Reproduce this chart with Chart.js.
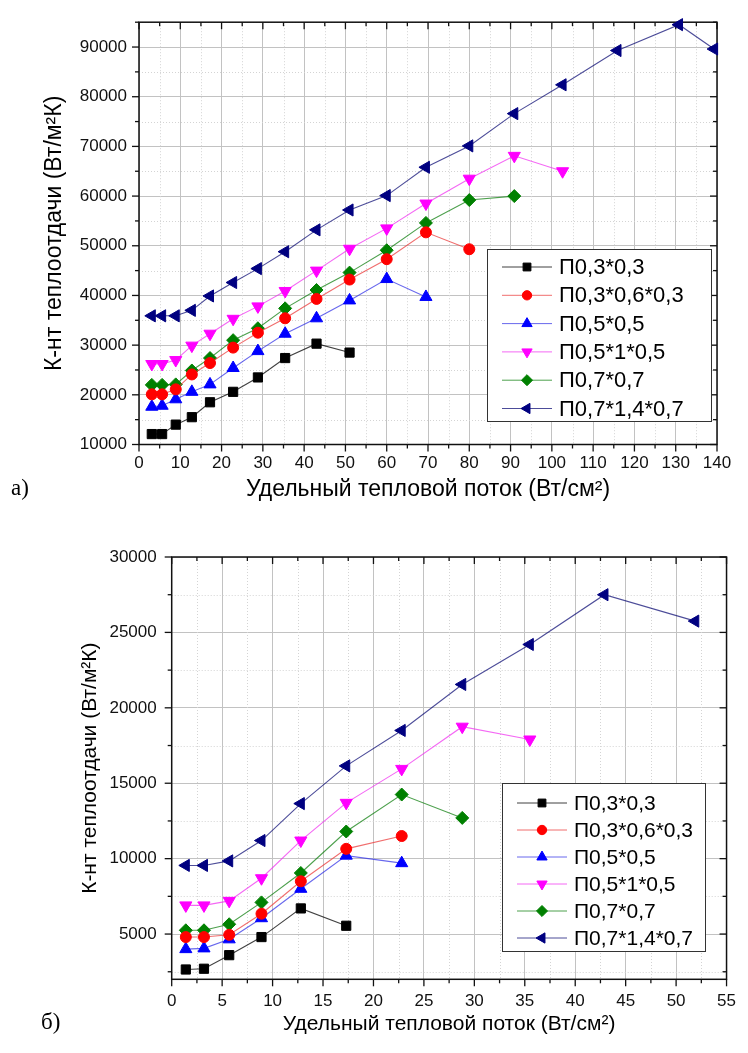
<!DOCTYPE html>
<html>
<head>
<meta charset="utf-8">
<script src="https://cdn.jsdelivr.net/npm/chart.js@4/dist/chart.umd.min.js"></script>
<style>
  body { margin: 0; background: #fff; }
  #page { position: relative; width: 748px; height: 1053px; overflow: hidden; background: #fff; }
  canvas { position: absolute; left: 0; }
  #top { top: 0; }
  #bottom { top: 520px; }
  .tag { position: absolute; font: 23px "Liberation Serif", "Times New Roman", serif; color: #000; line-height: 1; }
</style>
</head>
<body>
<div id="page">
  <canvas id="top" width="748" height="520"></canvas>
  <canvas id="bottom" width="748" height="533"></canvas>
  <div class="tag" style="left: 11px; top: 476px;">а)</div>
  <div class="tag" style="left: 41px; top: 1010px;">б)</div>
</div>
<script>
// series names (same for both panels)
const seriesNames = ['П0,3*0,3', 'П0,3*0,6*0,3', 'П0,5*0,5', 'П0,5*1*0,5', 'П0,7*0,7', 'П0,7*1,4*0,7']

// panel а) - heat flux, W/cm2
const xTop = [3.1, 5.6, 8.9, 12.8, 17.2, 22.8, 28.8, 35.4, 43.0, 51.0, 60.0, 69.5, 80.0, 90.9, 102.6, 115.9, 130.8, 139.3]
const topP03 = [12100, 12100, 14000, 15500, 18500, 20600, 23500, 27400, 30300, 28500]
const topP0306 = [20100, 20100, 21100, 24100, 26400, 29500, 32500, 35400, 39300, 43200, 47300, 52700, 49300]
const topP05 = [17600, 17800, 19100, 20600, 22100, 25400, 28800, 32300, 35400, 39000, 43300, 39700]
const topP0510 = [26200, 26200, 27000, 29900, 32300, 35300, 37800, 40900, 45000, 49400, 53500, 58500, 63500, 68100, 65000]
const topP07 = [22000, 22000, 22100, 24900, 27400, 31000, 33400, 37400, 41100, 44600, 49100, 54600, 59200, 60000]
const topP0714 = [35900, 35900, 35900, 37000, 39900, 42600, 45400, 48800, 53200, 57200, 60100, 65800, 70100, 76600, 82400, 89300, 94500, 89600]

// panel б)
const xBottom = [1.4, 3.2, 5.7, 8.9, 12.8, 17.3, 22.8, 28.8, 35.5, 42.9, 51.9]
const botP03 = [2650, 2700, 3600, 4800, 6700, 5550]
const botP0306 = [4800, 4800, 4950, 6350, 8500, 10650, 11500]
const botP05 = [4000, 4050, 4650, 6050, 8000, 10200, 9700]
const botP0510 = [6900, 6900, 7200, 8700, 11200, 13700, 15950, 18750, 17900]
const botP07 = [5250, 5250, 5650, 7100, 9050, 11800, 14250, 12700]
const botP0714 = [9550, 9550, 9850, 11200, 13650, 16150, 18500, 21550, 24200, 27500, 25750]

// axis ranges / tick steps
const topXRange = [0, 140], topXMajor = 10, topXMinor = 5
const topYRange = [10000, 95000], topYMajor = 10000, topYMinor = 5000
const botXRange = [0, 55], botXMajor = 5, botXMinor = 2.5
const botYRange = [2000, 30000], botYMajor = 5000, botYMinor = 2500

const xTitle = 'Удельный тепловой поток (Вт/см²)'
const yTitle = 'К-нт теплоотдачи (Вт/м²К)'

const FONT = '"Liberation Sans", Arial, sans-serif'
Chart.defaults.font.family = FONT
Chart.defaults.color = '#111'

const markers = [
  { color: '#000000', line: 'rgba(0,0,0,0.75)', style: 'rect', rot: 0, r: 6.5 },
  { color: '#ff0000', line: 'rgba(235,60,60,0.75)', style: 'circle', rot: 0, r: 5.5 },
  { color: '#0000ff', line: 'rgba(40,40,230,0.7)', style: 'triangle', rot: 0, r: 7 },
  { color: '#ff00ff', line: 'rgba(240,40,240,0.7)', style: 'triangle', rot: 180, r: 7 },
  { color: '#008000', line: 'rgba(0,120,0,0.7)', style: 'rectRot', rot: 0, r: 6.5 },
  { color: '#000080', line: 'rgba(0,0,110,0.7)', style: 'triangle', rot: 270, r: 7 }
]

const isMajor = (v, m) => Math.abs(v / m - Math.round(v / m)) < 1e-6
const steps = (min, max, step) => {
  const out = []
  for (let v = Math.ceil(min / step - 1e-9) * step; v <= max + 1e-9; v += step) out.push(Math.round(v * 1000) / 1000)
  return out
}

// dotted minor grid, frame, ticks on all four sides
const frameTicks = {
  id: 'frameTicks',
  beforeDatasetsDraw (chart, args, opts) {
    const { ctx, chartArea: a, scales: { x, y } } = chart
    const xs = steps(x.min, x.max, opts.xMinor)
    const ys = steps(y.min, y.max, opts.yMinor)
    const seg = (x1, y1, x2, y2) => { ctx.beginPath(); ctx.moveTo(x1, y1); ctx.lineTo(x2, y2); ctx.stroke() }
    ctx.save()
    ctx.lineWidth = 1
    ctx.strokeStyle = '#d4d4d4'
    ctx.setLineDash([1, 2])
    xs.filter(v => !isMajor(v, opts.xMajor)).forEach(v => {
      const px = Math.round(x.getPixelForValue(v)) + 0.5
      seg(px, a.top, px, a.bottom)
    })
    ys.filter(v => !isMajor(v, opts.yMajor)).forEach(v => {
      const py = Math.round(y.getPixelForValue(v)) + 0.5
      seg(a.left, py, a.right, py)
    })
    ctx.setLineDash([])
    ctx.strokeStyle = '#111'
    ctx.lineWidth = 1.5
    ctx.strokeRect(a.left, a.top, a.right - a.left, a.bottom - a.top)
    ctx.lineWidth = 1.3
    xs.forEach(v => {
      const px = x.getPixelForValue(v)
      const len = isMajor(v, opts.xMajor) ? 7 : 4
      seg(px, a.bottom, px, a.bottom + len)
      seg(px, a.top, px, a.top + len)
    })
    ys.forEach(v => {
      const py = y.getPixelForValue(v)
      const len = isMajor(v, opts.yMajor) ? 7 : 4
      seg(a.left - len, py, a.left, py)
      seg(a.right - len, py, a.right, py)
    })
    ctx.restore()
  }
}

// boxed legend placed inside the plot
const insideLegend = {
  id: 'insideLegend',
  afterDraw (chart, args, opts) {
    const { ctx } = chart
    ctx.save()
    ctx.fillStyle = '#fff'
    ctx.fillRect(opts.left, opts.top, opts.width, opts.height)
    ctx.strokeStyle = '#333'
    ctx.lineWidth = 1
    ctx.strokeRect(opts.left + 0.5, opts.top + 0.5, opts.width, opts.height)
    ctx.font = opts.fontSize + 'px ' + FONT
    ctx.textBaseline = 'middle'
    chart.data.datasets.forEach((ds, i) => {
      const yy = opts.firstRow + i * opts.rowGap
      ctx.strokeStyle = ds.borderColor
      ctx.lineWidth = 1
      ctx.beginPath()
      ctx.moveTo(opts.left + 15, yy)
      ctx.lineTo(opts.left + 65, yy)
      ctx.stroke()
      ctx.fillStyle = ds.pointBackgroundColor
      ctx.strokeStyle = ds.pointBorderColor
      Chart.helpers.drawPoint(ctx, { pointStyle: ds.pointStyle, rotation: ds.pointRotation, radius: ds.pointRadius * 0.85, borderWidth: 1 }, opts.left + 40, yy)
      ctx.fillStyle = '#000'
      ctx.fillText(ds.label, opts.left + 72, yy + 1)
    })
    ctx.restore()
  }
}

function makeDatasets (xs, series) {
  return series.map((vals, i) => ({
    label: seriesNames[i],
    data: vals.map((v, j) => ({ x: xs[j], y: v })),
    borderColor: markers[i].line,
    borderWidth: 1.1,
    pointStyle: markers[i].style,
    pointRotation: markers[i].rot,
    pointRadius: markers[i].r,
    pointBackgroundColor: markers[i].color,
    pointBorderColor: markers[i].color,
    pointBorderWidth: 1,
    clip: false
  }))
}

function buildChart (id, cfg) {
  return new Chart(document.getElementById(id), {
    type: 'line',
    data: { datasets: makeDatasets(cfg.xs, cfg.series) },
    options: {
      responsive: false,
      animation: false,
      devicePixelRatio: 1,
      layout: { padding: cfg.padding },
      plugins: {
        legend: { display: false },
        tooltip: { enabled: false },
        frameTicks: { xMajor: cfg.xMajor, xMinor: cfg.xMinor, yMajor: cfg.yMajor, yMinor: cfg.yMinor },
        insideLegend: cfg.legend
      },
      scales: {
        x: {
          type: 'linear',
          min: cfg.xRange[0],
          max: cfg.xRange[1],
          border: { display: false },
          grid: { color: '#c2c2c2', lineWidth: 1, drawTicks: false },
          afterBuildTicks: s => { s.ticks = steps(cfg.xRange[0], cfg.xRange[1], cfg.xMajor).map(v => ({ value: v })) },
          ticks: {
            autoSkip: false,
            maxRotation: 0,
            padding: cfg.xTickPad,
            font: { size: 17 },
            callback: v => String(v)
          },
          title: { display: true, text: xTitle, font: { size: cfg.titleSize }, color: '#000', padding: { top: 0, bottom: cfg.xTitlePad } },
          afterFit: s => { s.height = cfg.xAxisH }
        },
        y: {
          type: 'linear',
          min: cfg.yRange[0],
          max: cfg.yRange[1],
          border: { display: false },
          grid: { color: '#c2c2c2', lineWidth: 1, drawTicks: false },
          afterBuildTicks: s => { s.ticks = steps(cfg.yRange[0], cfg.yRange[1], cfg.yMajor).map(v => ({ value: v })) },
          ticks: {
            autoSkip: false,
            padding: cfg.yTickPad,
            font: { size: 17 },
            callback: v => String(v)
          },
          title: { display: true, text: yTitle, font: { size: cfg.titleSize }, color: '#000', padding: { top: cfg.yTitlePad, bottom: 0 } },
          afterFit: s => { s.width = cfg.yAxisW }
        }
      }
    },
    plugins: [frameTicks, insideLegend]
  })
}

buildChart('top', {
  xs: xTop,
  series: [topP03, topP0306, topP05, topP0510, topP07, topP0714],
  xRange: topXRange, xMajor: topXMajor, xMinor: topXMinor,
  yRange: topYRange, yMajor: topYMajor, yMinor: topYMinor,
  padding: { top: 15, right: 31, left: 0, bottom: 0 },
  yAxisW: 139, xAxisH: 75.5,
  xTickPad: 9, yTickPad: 12,
  titleSize: 23, xTitlePad: 17, yTitlePad: 41,
  legend: { left: 487, top: 249, width: 224, height: 172, firstRow: 267, rowGap: 28.3, fontSize: 22 }
})

buildChart('bottom', {
  xs: xBottom,
  series: [botP03, botP0306, botP05, botP0510, botP07, botP0714],
  xRange: botXRange, xMajor: botXMajor, xMinor: botXMinor,
  yRange: botYRange, yMajor: botYMajor, yMinor: botYMinor,
  padding: { top: 37, right: 11.5, left: 0, bottom: 0 },
  yAxisW: 171.7, xAxisH: 73.7,
  xTickPad: 12, yTickPad: 15,
  titleSize: 21, xTitlePad: 16, yTitlePad: 78,
  legend: { left: 502, top: 263, width: 203, height: 168, firstRow: 283, rowGap: 27, fontSize: 21 }
})
</script>
</body>
</html>
